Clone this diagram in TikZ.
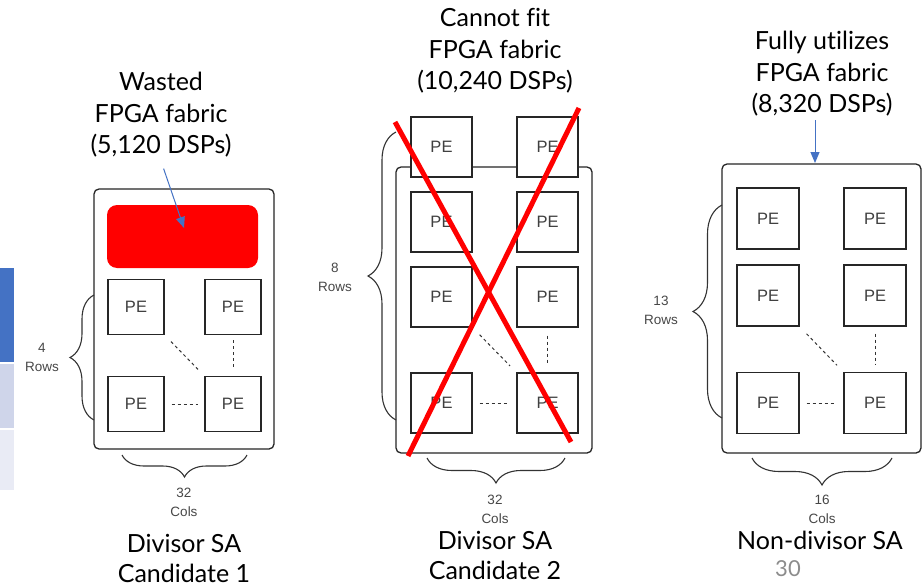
\documentclass[tikz,border=0pt]{standalone}
\usepackage{fontspec}
\setmainfont{Lato}[Ligatures=NoCommon]
\setsansfont{Liberation Sans}
\usetikzlibrary{arrows.meta,positioning,decorations.pathreplacing,calc}

\definecolor{arrowblue}{HTML}{4472C4}
\definecolor{tblmid}{HTML}{CFD5EA}
\definecolor{tbllight}{HTML}{E9EBF5}
\definecolor{pagegray}{HTML}{8C8C8C}

\begin{document}
\begin{tikzpicture}[
    x=1pt, y=-1pt,
    font=\fontsize{25}{31.5}\selectfont,
    frame/.style={draw=black!85, line width=1.3pt, rounded corners=5pt, inner sep=0pt},
    pe/.style={draw=black!85, fill=white, line width=1.3pt, inner sep=0pt,
        font=\sffamily\fontsize{16.5}{16.5}\selectfont, text=black!75},
    dots/.style={dash pattern=on 3pt off 3pt, line width=1pt, black!80},
    brace/.style={decorate, decoration={brace, amplitude=#1}, line width=1.1pt, black!80},
    dim/.style={font=\sffamily\fontsize{13.5}{19}\selectfont, text=black!72, align=center},
    title/.style={align=center},
    pointer/.style={-{Triangle[length=11pt,width=9pt]}, line width=1pt, arrowblue},
    cross/.style={line width=5pt, red}
]
    \useasboundingbox (0,0) rectangle (924,586);
    \fill[white] (0,0) rectangle (924,586);

    % cut-off table at the left edge
    \fill[arrowblue] (0,268) rectangle (14,362);
    \fill[tblmid] (0,364) rectangle (14,428);
    \fill[tbllight] (0,430) rectangle (14,490);

    % candidate 1: divisor SA, 4 rows x 32 cols
    \node[frame, minimum width=180pt, minimum height=260pt] (sa1) at (184,319) {};
    \node[fill=red, rounded corners=10pt, minimum width=151pt, minimum height=63pt] (waste) at (182.5,236.5) {};
    \node[pe, minimum width=56pt, minimum height=55pt] (pe1a) at (136,307) {PE};
    \node[pe, minimum width=56pt, minimum height=55pt] (pe1b) at (233,307) {PE};
    \node[pe, minimum width=56pt, minimum height=55pt] (pe1c) at (136,404) {PE};
    \node[pe, minimum width=56pt, minimum height=55pt] (pe1d) at (233,404) {PE};
    \draw[dots, shorten <=9pt, shorten >=9pt] (pe1a.south east) -- (pe1d.north west);
    \draw[dots, shorten <=5pt, shorten >=7pt] (pe1b) -- (pe1d);
    \draw[dots, shorten <=7pt, shorten >=6pt] (pe1c) -- (pe1d);

    \draw[brace=24pt] (94,420) -- (94,295);
    \node[dim] (rows1) at (42,357) {4\\Rows};
    \draw[brace=22pt] (247,455) -- (122,455);
    \node[dim] (cols1) at (184,502) {32\\Cols};

    \node[title] (t1) at (161,115) {Wasted\\FPGA fabric\\(5,120 DSPs)};
    \coordinate (tip1) at (184,228);
    \draw[pointer, shorten <=8pt] (t1.south) -- (tip1);
    \node[title, font=\fontsize{25}{30}\selectfont] (cap1) at (184,558) {Divisor SA\\Candidate 1};

    % candidate 2: divisor SA, 8 rows x 32 cols
    \node[frame, minimum width=196pt, minimum height=286pt] (sa2) at (494,310) {};
    \foreach \r/\y in {a/147, b/222, c/297, d/403} {
        \node[pe, minimum width=61pt, minimum height=60pt] (pe2\r l) at (441.5,\y) {PE};
        \node[pe, minimum width=61pt, minimum height=60pt] (pe2\r r) at (547.5,\y) {PE};
    }
    \draw[dots, shorten <=10pt, shorten >=9pt] (pe2cl.south east) -- (pe2dr.north west);
    \draw[dots, shorten <=8pt, shorten >=8pt] (pe2cr) -- (pe2dr);
    \draw[dots, shorten <=7pt, shorten >=7pt] (pe2dl) -- (pe2dr);

    \draw[brace=28pt] (396,420) -- (396,132);
    \node[dim] (rows2) at (335,277) {8\\Rows};
    \draw[brace=25pt] (565,458) -- (427,458);
    \node[dim] (cols2) at (495,509) {32\\Cols};

    \node[title] (t2) at (495,51) {Cannot fit\\FPGA fabric\\(10,240 DSPs)};
    \node[title, font=\fontsize{25}{30}\selectfont] (cap2) at (495,555) {Divisor SA\\Candidate 2};

    % the red cross over candidate 2
    \coordinate (xa) at (395,122);
    \coordinate (xb) at (571,442);
    \coordinate (xc) at (579,108);
    \coordinate (xd) at (408,456);
    \draw[cross] (xa) -- (xb);
    \draw[cross] (xc) -- (xd);

    % non-divisor SA, 13 rows x 16 cols
    \node[frame, minimum width=199pt, minimum height=289pt] (sa3) at (821.5,308.5) {};
    \foreach \r/\y in {a/218.5, b/295.5, c/403} {
        \node[pe, minimum width=62pt, minimum height=61pt] (pe3\r l) at (768,\y) {PE};
        \node[pe, minimum width=62pt, minimum height=61pt] (pe3\r r) at (875,\y) {PE};
    }
    \draw[dots, shorten <=10pt, shorten >=9pt] (pe3bl.south east) -- (pe3cr.north west);
    \draw[dots, shorten <=7pt, shorten >=7pt] (pe3br) -- (pe3cr);
    \draw[dots, shorten <=7pt, shorten >=7pt] (pe3cl) -- (pe3cr);

    \draw[brace=29pt] (722,418) -- (722,205);
    \node[dim] (rows3) at (661,310) {13\\Rows};
    \draw[brace=27pt] (892,458) -- (752,458);
    \node[dim] (cols3) at (822,509) {16\\Cols};

    \node[title] (t3) at (822,74) {Fully utilizes\\FPGA fabric\\(8,320 DSPs)};
    \coordinate (tip3) at (815,163);
    \draw[pointer] (tip3 |- t3.south) -- (tip3);
    \node[title] (cap3) at (820,540) {Non-divisor SA};
    \node[text=pagegray, font=\fontsize{22}{22}\selectfont] (page) at (788,569) {30};
\end{tikzpicture}
\end{document}
